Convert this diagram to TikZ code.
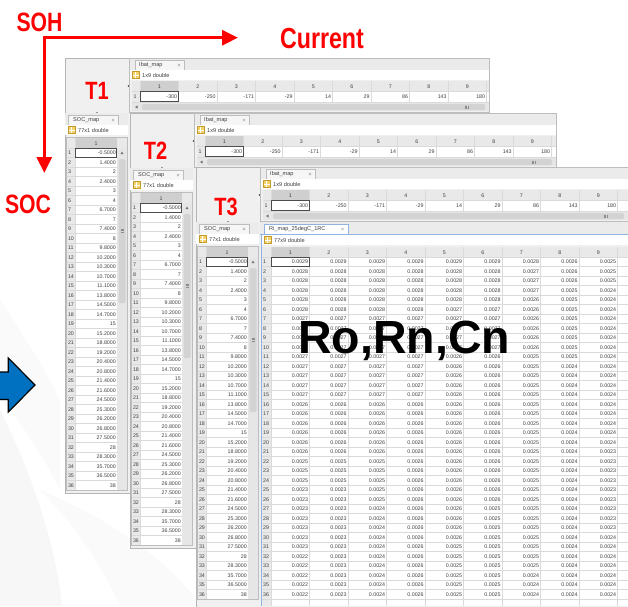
\documentclass[tikz,border=0pt]{standalone}
\usepackage{fontspec}
\setmainfont{Liberation Sans}
\usetikzlibrary{arrows.meta}
\definecolor{winbg}{HTML}{F0F0F0}
\definecolor{tabbg}{HTML}{EBEBEB}
\definecolor{hdr}{HTML}{E9E9E9}
\definecolor{hdrsel}{HTML}{CFCFCF}
\definecolor{gridc}{HTML}{DADADA}
\definecolor{framec}{HTML}{BDBDBD}
\definecolor{winframe}{HTML}{B5B5B5}
\definecolor{scrollbg}{HTML}{E6E6E6}
\definecolor{thumbc}{HTML}{D3D3D3}
\definecolor{txt}{HTML}{404040}
\definecolor{labred}{HTML}{FF0000}
\definecolor{arrowblue}{HTML}{0070C0}
\definecolor{activeblue}{HTML}{8FB4E0}
\definecolor{iconyel}{HTML}{F3D36A}
\definecolor{iconedge}{HTML}{C49A2E}
\tikzset{
  ui/.style={font=\fontsize{5.3}{6}\selectfont, text=txt, inner sep=0pt},
  cell/.style={ui, anchor=east},
  hcell/.style={ui, anchor=center},
  rnum/.style={ui, anchor=west},
  tabtxt/.style={font=\fontsize{5.6}{7}\selectfont, text=txt, inner sep=0pt, anchor=west},
  closex/.style={font=\fontsize{6}{7}\selectfont, text=black!45, inner sep=0pt},
  redlabel/.style={font=\bfseries\fontsize{25}{28}\selectfont, text=labred, inner sep=0pt, xscale=0.8},
  tabshape/.style={fill=white!55!tabbg, draw=framec, line width=0.5},
  panelframe/.style={draw=framec, line width=0.5},
  gridline/.style={draw=gridc, line width=0.4},
  selbox/.style={draw=black!70, line width=0.5},
  redarrow/.style={draw=labred, line width=3pt, line cap=rect, -{Triangle[length=16pt,width=15pt]}},
}
\newcommand\gridicon[2]{%
  \fill[iconyel] ({#1},{#2}) rectangle ({#1+7},{#2+7});
  \draw[white, line width=0.5] ({#1+3.5},{#2}) -- ({#1+3.5},{#2+7}) ({#1},{#2+3.5}) -- ({#1+7},{#2+3.5});
  \draw[iconedge, line width=0.4] ({#1},{#2}) rectangle ({#1+7},{#2+7});
}
\newcommand\winbase[4]{%
  \fill[winbg] (#1,#2) rectangle (#3,#4);
  \draw[winframe, line width=0.6] (#1,#2) rectangle (#3,#4);
  \fill[black!75] ({#1+63.5},{#2+28}) circle (0.8);
  \fill[black!75] ({#1+32},{#2+55}) circle (0.8);
}
\newcommand\ibatpanel[4]{%
  \fill[tabbg] (#1,#2) rectangle (#3,{#2+12});
  \draw[panelframe] (#1,{#2+12}) -- (#3,{#2+12});
  \filldraw[tabshape] ({#1+6},{#2+12}) -- ({#1+6},{#2+2.5}) -- ({#1+55},{#2+2.5}) -- ({#1+55},{#2+12});
  \node[tabtxt] (#4-tab) at ({#1+10},{#2+7.5}) {Ibat\_map};
  \node[closex] (#4-cl) at ({#1+50},{#2+7.5}) {×};
  \fill[white] (#1,{#2+12.3}) rectangle (#3,{#2+22});
  \gridicon{#1+3}{#2+13.5}
  \node[tabtxt] (#4-info) at ({#1+13},{#2+17.5}) {1x9 double};
  \fill[white] ({#1+3},{#2+23}) rectangle (#3,{#2+44});
  \fill[hdr] ({#1+3},{#2+23}) rectangle (#3,{#2+33});
  \fill[hdrsel] ({#1+11},{#2+23}) rectangle ({#1+49.5},{#2+33});
  \fill[hdr] ({#1+3},{#2+33}) rectangle ({#1+11},{#2+44});
  \draw[gridline] ({#1+3},{#2+33}) -- (#3,{#2+33}) ({#1+3},{#2+44}) -- (#3,{#2+44}) ({#1+11},{#2+23}) -- ({#1+11},{#2+44});
  \node[rnum] (#4-r1) at ({#1+4.5},{#2+38.7}) {1};
  \foreach \v [count=\c] in {-300,-250,-171,-29,14,29,86,143,180}{%
    \node[hcell] (#4-h\c) at ({#1+11+38.5*(\c-0.5)},{#2+28.2}) {\c};
    \node[cell] (#4-v\c) at ({#1+11+38.5*\c-1.2},{#2+38.7}) {\v};
    \draw[gridline] ({#1+11+38.5*\c},{#2+23}) -- ({#1+11+38.5*\c},{#2+44});
  }
  \draw[selbox] ({#1+11.5},{#2+33.5}) rectangle ({#1+49.5},{#2+43.5});
  \fill[scrollbg] ({#1+3},{#2+45}) rectangle (#3,{#2+53});
  \fill[black!55] ({#1+6},{#2+49}) -- ({#1+8.5},{#2+47.5}) -- ({#1+8.5},{#2+50.5}) -- cycle;
  \fill[thumbc, rounded corners=1.5] ({#1+13},{#2+46}) rectangle ({#3-4},{#2+52});
  \draw[black!45, line width=0.3] ({#3-24},{#2+47.5}) -- ({#3-24},{#2+50.5}) ({#3-22.5},{#2+47.5}) -- ({#3-22.5},{#2+50.5}) ({#3-21},{#2+47.5}) -- ({#3-21},{#2+50.5});
  \draw[panelframe] (#1,#2) rectangle (#3,{#2+54});
}
\newcommand\socpanel[3]{%
  \fill[tabbg] (#1,#2) rectangle ({#1+63},{#2+12});
  \draw[panelframe] (#1,{#2+12}) -- ({#1+63},{#2+12});
  \filldraw[tabshape] ({#1+3},{#2+12}) -- ({#1+3},{#2+2.5}) -- ({#1+53},{#2+2.5}) -- ({#1+53},{#2+12});
  \node[tabtxt] (#3-tab) at ({#1+8},{#2+7.5}) {SOC\_map};
  \node[closex] (#3-cl) at ({#1+48},{#2+7.5}) {×};
  \fill[white] (#1,{#2+12.3}) rectangle ({#1+63},{#2+22});
  \gridicon{#1+3}{#2+13.5}
  \node[tabtxt] (#3-info) at ({#1+13},{#2+17.5}) {77x1 double};
  \fill[white] ({#1+2},{#2+25}) rectangle ({#1+52},{#2+377});
  \fill[hdr] ({#1+2},{#2+25}) rectangle ({#1+10},{#2+377});
  \fill[hdrsel] ({#1+10},{#2+25}) rectangle ({#1+52},{#2+35});
  \fill[hdr] ({#1+52},{#2+25}) rectangle ({#1+62},{#2+35});
  \node[hcell] (#3-h1) at ({#1+31},{#2+30.2}) {1};
  \draw[gridline] ({#1+2},{#2+35}) -- ({#1+52},{#2+35}) ({#1+10},{#2+25}) -- ({#1+10},{#2+377});
  \foreach \v [count=\r] in {-0.5000,1.4000,2,2.4000,3,4,6.7000,7,7.4000,8,9.8000,10.2000,10.3000,10.7000,11.1000,13.8000,14.5000,14.7000,15,15.2000,18.8000,19.2000,20.4000,20.8000,21.4000,21.6000,24.5000,25.3000,26.2000,26.8000,27.5000,28,28.3000,35.7000,36.5000,38}{%
    \node[rnum] (#3-r\r) at ({#1+2.8},{#2+35+9.5*\r-4.6}) {\r};
    \node[cell] (#3-v\r) at ({#1+51},{#2+35+9.5*\r-4.6}) {\v};
    \draw[gridline] ({#1+2},{#2+35+9.5*\r}) -- ({#1+52},{#2+35+9.5*\r});
  }
  \draw[selbox] ({#1+10.5},{#2+35.5}) rectangle ({#1+51.5},{#2+44.5});
  \fill[scrollbg] ({#1+52},{#2+35}) rectangle ({#1+62},{#2+377});
  \fill[black!55] ({#1+57},{#2+38.5}) -- ({#1+55.5},{#2+41}) -- ({#1+58.5},{#2+41}) -- cycle;
  \fill[thumbc, rounded corners=1.5] ({#1+53.5},{#2+46}) rectangle ({#1+60.5},{#2+190});
  \draw[black!45, line width=0.3] ({#1+55.5},{#2+116}) -- ({#1+58.5},{#2+116}) ({#1+55.5},{#2+117.5}) -- ({#1+58.5},{#2+117.5}) ({#1+55.5},{#2+119}) -- ({#1+58.5},{#2+119});
  \draw[panelframe] ({#1+1},{#2+24}) rectangle ({#1+62.5},{#2+377.5});
}
\begin{document}
\begin{tikzpicture}[x=1pt,y=-1pt]
\clip (0,0) rectangle (628,606);
\fill[white] (0,0) rectangle (628,606);
% faint background swooshes
\fill[black!3] (0,410) .. controls (30,470) and (55,540) .. (62,606) -- (0,606) -- cycle;
\fill[black!2] (40,490) .. controls (110,520) and (170,560) .. (200,606) -- (120,606) .. controls (100,560) and (70,520) .. (40,490) -- cycle;
\fill[black!2] (0,300) .. controls (20,330) and (40,360) .. (60,400) -- (60,490) .. controls (40,450) and (20,420) .. (0,400) -- cycle;

% ---------- window T1 ----------
\winbase{65}{58}{489}{493}
\ibatpanel{129}{58}{489}{wa}
\socpanel{65}{113}{wb}
\node[redlabel] (t1) at (97,91) {T1};

% ---------- window T2 ----------
\winbase{130}{113}{556}{548}
\ibatpanel{194}{113}{556}{wc}
\socpanel{130}{168}{wd}
\node[redlabel] (t2) at (155.5,151) {T2};

% ---------- window T3 ----------
\winbase{196}{167}{640}{620}
\ibatpanel{260}{167}{628}{we}
\socpanel{196}{222}{wf}
\node[redlabel] (t3) at (226,206.5) {T3};

% Ri_map panel
\fill[tabbg] (260,222) rectangle (628,234);
\draw[activeblue, line width=0.6] (260,234) -- (628,234);
\filldraw[fill=white, draw=activeblue, line width=0.6] (264,234) -- (264,224.5) -- (348,224.5) -- (348,234);
\node[tabtxt] (ri-tab) at (269,229.5) {Ri\_map\_25degC\_1RC};
\node[closex] (ri-cl) at (342.5,229.5) {×};
\fill[white] (261,234.5) rectangle (628,245);
\gridicon{264}{236.5}
\node[tabtxt] (ri-info) at (274,240.5) {77x9 double};
\fill[white] (262,247) rectangle (628,606);
\fill[hdr] (262,247) rectangle (628,257);
\fill[hdr] (262,257) rectangle (271,606);
\fill[hdrsel] (271,247) rectangle (309.5,257);
\foreach \c in {1,...,9}{%
  \node[hcell] (ri-h\c) at ({271+38.5*(\c-0.5)},252.2) {\c};
  \draw[gridline] ({271+38.5*\c},247) -- ({271+38.5*\c},606);
}
\draw[gridline] (271,247) -- (271,606) (262,257) -- (628,257);
\foreach \rv [count=\r] in {
 {29,29,29,29,29,29,28,26,25},
 {28,28,28,28,28,28,27,26,25},
 {28,28,28,28,28,28,27,26,25},
 {28,28,28,28,28,28,27,25,24},
 {28,28,28,28,28,28,26,25,24},
 {28,28,28,28,27,27,26,25,24},
 {27,27,27,27,27,27,26,25,24},
 {27,27,27,27,27,27,26,25,24},
 {27,27,27,27,27,27,26,25,24},
 {27,27,27,27,27,27,26,25,24},
 {27,27,27,27,26,26,25,25,24},
 {27,27,27,27,26,26,25,24,24},
 {27,27,27,27,26,26,25,24,24},
 {27,27,27,27,26,26,25,24,24},
 {27,27,27,27,26,26,25,24,24},
 {26,26,26,26,26,26,25,24,24},
 {26,26,26,26,26,26,25,24,24},
 {26,26,26,26,26,26,25,24,24},
 {26,26,26,26,26,26,25,24,24},
 {26,26,26,26,26,26,25,24,24},
 {26,26,26,26,26,26,25,24,23},
 {25,25,25,26,26,26,25,24,23},
 {25,25,25,26,26,26,25,24,23},
 {25,25,25,26,26,26,25,24,23},
 {23,23,25,26,26,26,25,24,23},
 {23,23,25,26,26,26,25,24,23},
 {23,23,24,26,26,25,25,24,23},
 {23,23,24,26,26,25,25,24,23},
 {23,23,24,26,26,25,25,24,23},
 {23,23,24,26,26,25,25,24,24},
 {23,23,24,26,25,25,25,24,24},
 {22,23,24,26,25,25,25,24,24},
 {22,23,24,26,25,25,25,24,24},
 {22,23,24,26,25,25,24,24,24},
 {22,23,24,26,25,25,24,24,24},
 {22,23,24,26,25,25,24,24,24}}{%
  \node[rnum] (ri-r\r) at (263,{257+9.5*\r-4.6}) {\r};
  \foreach \v [count=\c] in \rv {%
    \node[cell] (ri-\r-\c) at ({271+38.5*\c-1.2},{257+9.5*\r-4.6}) {0.00\v};
  }
  \draw[gridline] (262,{257+9.5*\r}) -- (628,{257+9.5*\r});
}
\draw[selbox] (271.5,257.5) rectangle (309,266.5);
\draw[activeblue, line width=0.8] (261,234) -- (261,606);

% big overlay text
\node[font=\bfseries\fontsize{46.5}{50}\selectfont, inner sep=0pt, anchor=base west] (rrc) at (298,353) {Ro,Rn,Cn};

% red axis labels and arrows
\node[redlabel, font=\bfseries\fontsize{26.5}{30}\selectfont] (soh) at (39.5,22.5) {SOH};
\node[redlabel, font=\bfseries\fontsize{29}{32}\selectfont] (cur) at (322,39) {Current};
\node[redlabel, font=\bfseries\fontsize{26.5}{30}\selectfont] (soc) at (28,204) {SOC};
\coordinate (axo) at (44.3,37.7);
\coordinate (axcur) at (238,37.7);
\coordinate (axsoc) at (44.3,173);
\draw[redarrow] (axo) -- (axcur);
\draw[redarrow] (axo) -- (axsoc);

% blue block arrow
\filldraw[fill=arrowblue, draw=black, line width=1.2pt] (-3,372) -- (8.3,372) -- (8.3,358) -- (35,385) -- (8.3,412) -- (8.3,399.5) -- (-3,399.5) -- cycle;
\end{tikzpicture}
\end{document}
